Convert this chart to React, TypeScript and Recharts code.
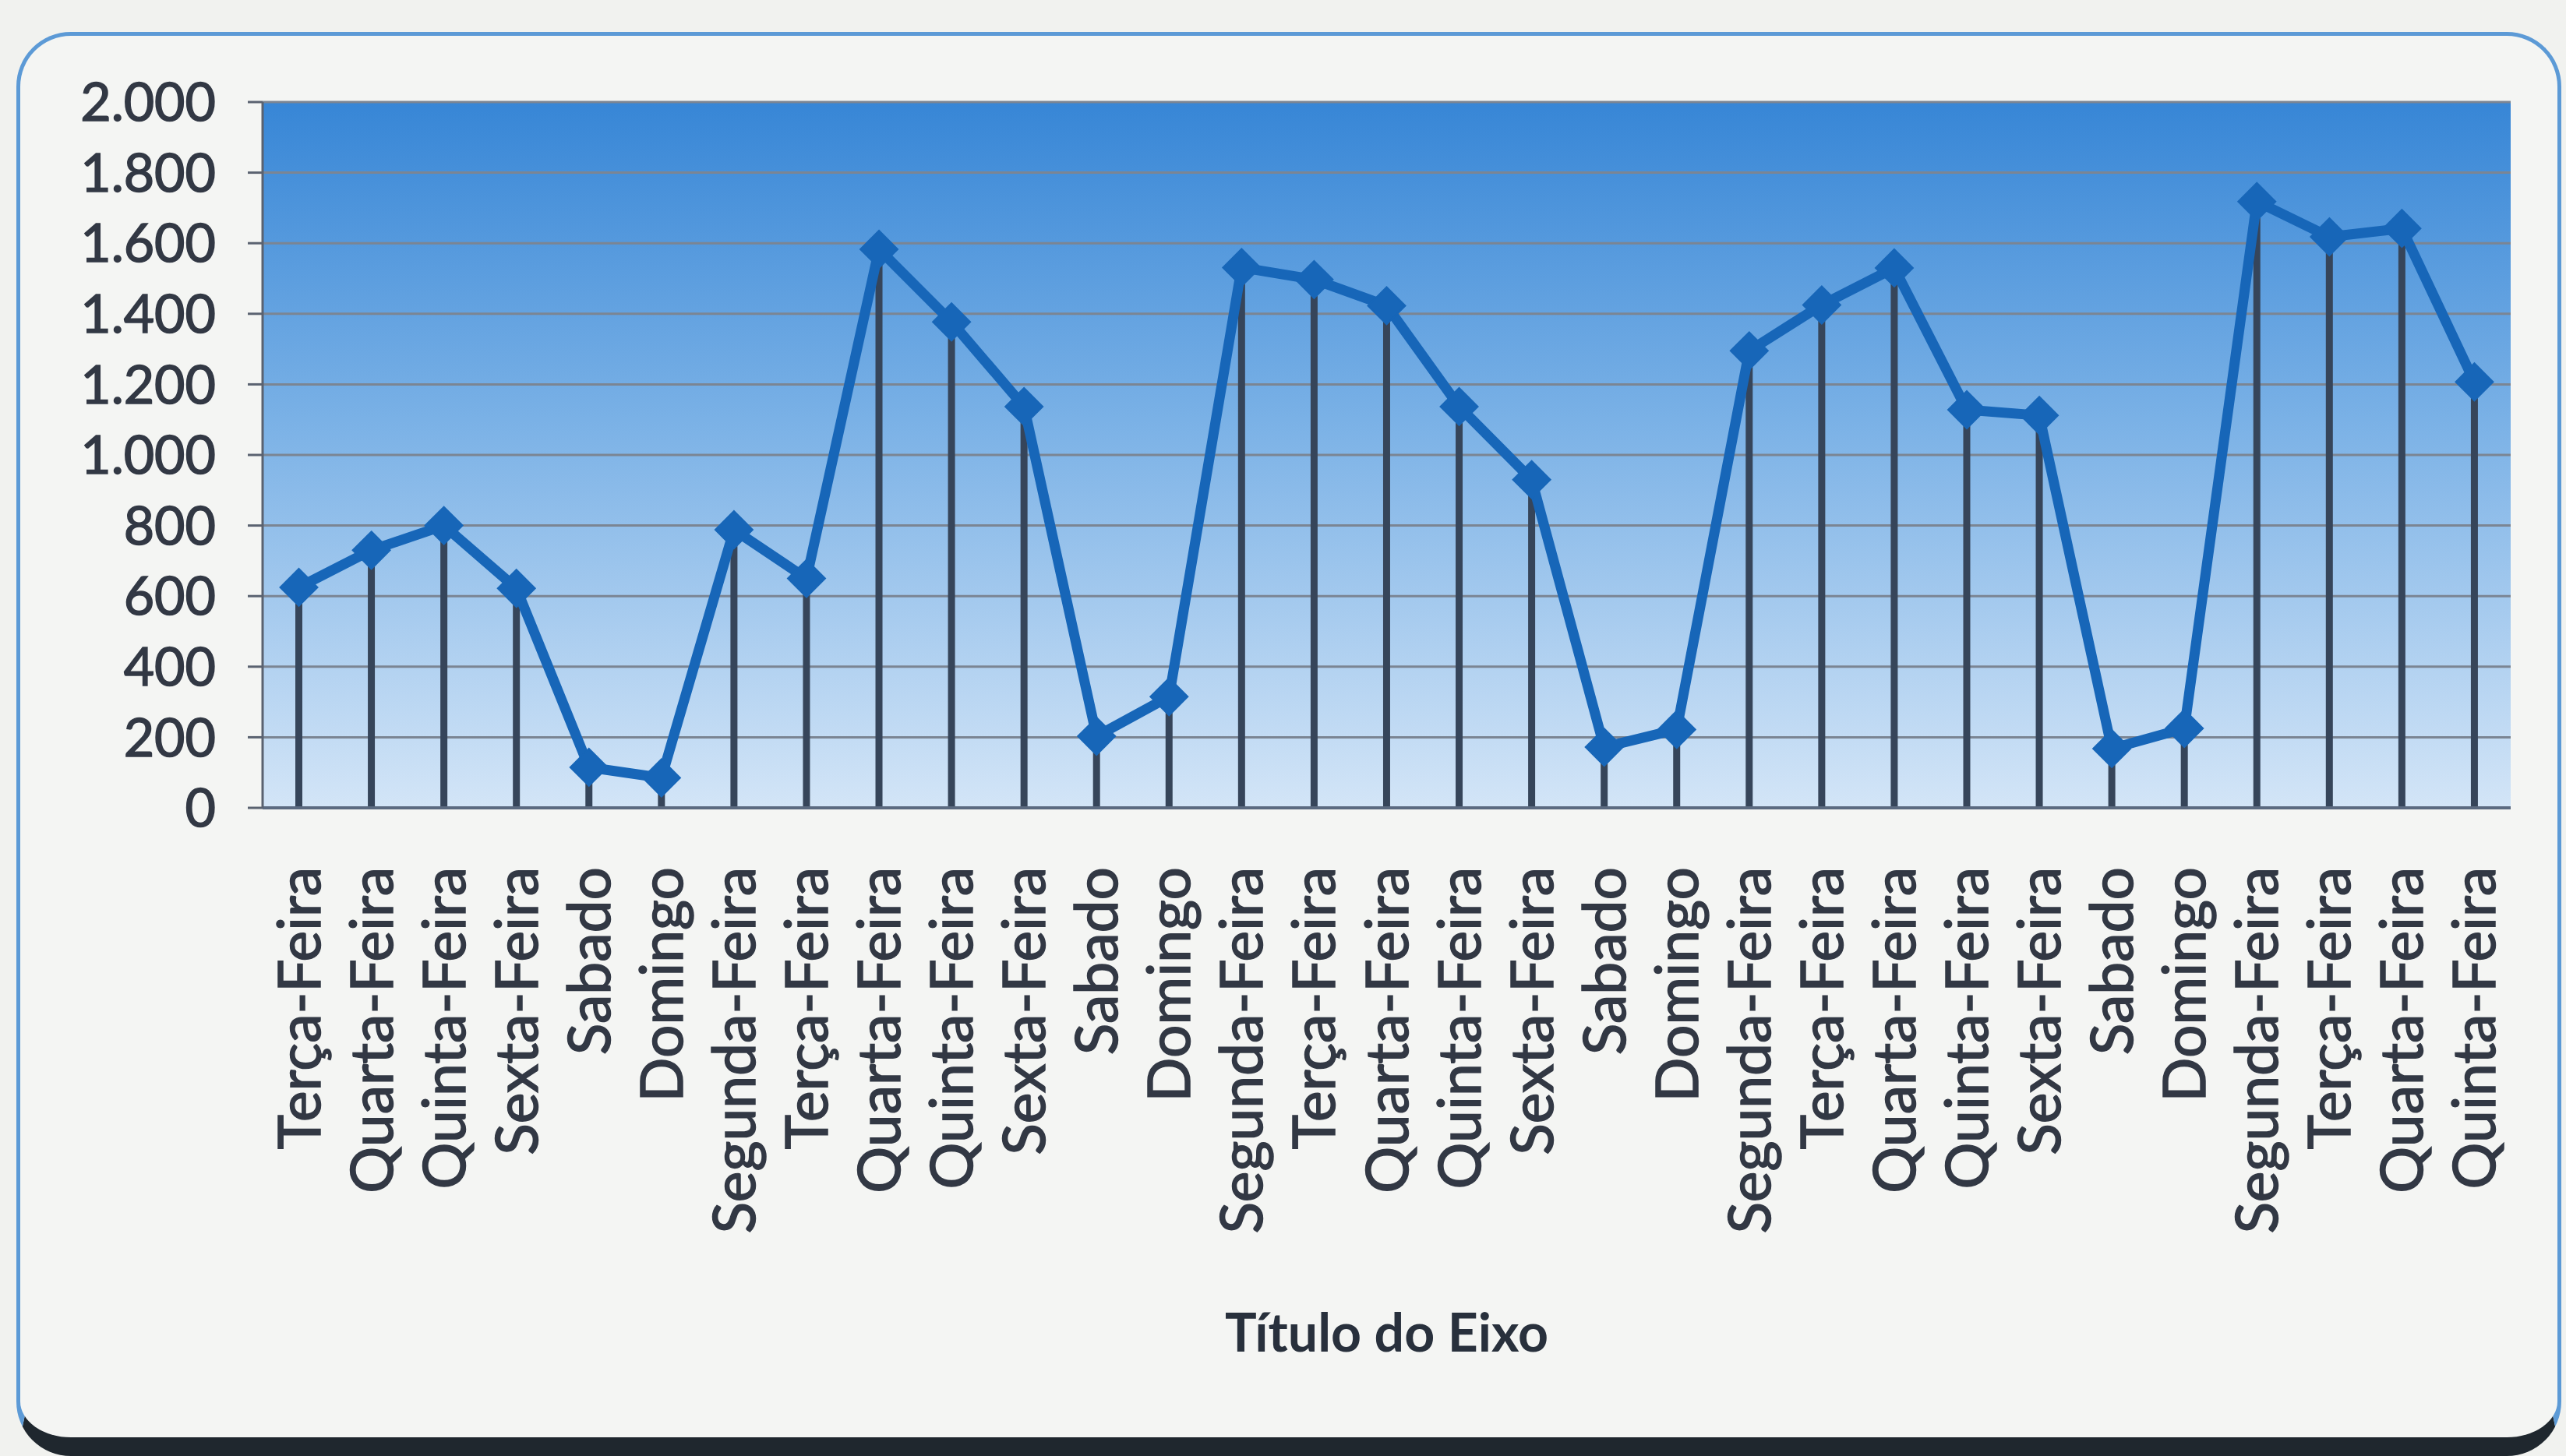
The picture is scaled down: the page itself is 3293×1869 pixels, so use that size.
import React from 'react';
import { ComposedChart, Bar, Line, XAxis, YAxis, CartesianGrid, Label } from 'recharts';

const days = [
  'Terça-Feira', 'Quarta-Feira', 'Quinta-Feira', 'Sexta-Feira', 'Sabado', 'Domingo', 'Segunda-Feira',
  'Terça-Feira', 'Quarta-Feira', 'Quinta-Feira', 'Sexta-Feira', 'Sabado', 'Domingo', 'Segunda-Feira',
  'Terça-Feira', 'Quarta-Feira', 'Quinta-Feira', 'Sexta-Feira', 'Sabado', 'Domingo', 'Segunda-Feira',
  'Terça-Feira', 'Quarta-Feira', 'Quinta-Feira', 'Sexta-Feira', 'Sabado', 'Domingo', 'Segunda-Feira',
  'Terça-Feira', 'Quarta-Feira', 'Quinta-Feira',
];

const values = [
  625, 730, 800, 622, 115, 85, 788,
  650, 1583, 1377, 1137, 203, 315, 1531,
  1497, 1423, 1137, 930, 172, 222, 1295,
  1425, 1530, 1128, 1112, 168, 225, 1718,
  1618, 1642, 1207,
];

const yTicks = [0, 200, 400, 600, 800, 1000, 1200, 1400, 1600, 1800, 2000];
const axisTitle = 'Título do Eixo';

const data = days.map((day, i) => ({ day, v: values[i] }));

const FONT = "Lato, 'Open Sans', sans-serif";
const LINE_COLOR = '#1766b8';
const TEXT_COLOR = '#323844';

const fmt = (n: number) => n.toLocaleString('de-DE');

const Diamond = (props: any) => {
  const { cx, cy } = props;
  if (cx == null || cy == null) return null;
  const r = 24;
  return (
    <path
      key={props.key}
      d={`M${cx},${cy - r} L${cx + r},${cy} L${cx},${cy + r} L${cx - r},${cy} Z`}
      fill={LINE_COLOR}
      stroke={LINE_COLOR}
      strokeWidth={2}
    />
  );
};

const XTick = (props: any) => {
  const { x, y, payload } = props;
  return (
    <text
      x={x}
      y={y}
      transform={`rotate(-90, ${x}, ${y})`}
      textAnchor="end"
      dy="0.36em"
      fontFamily={FONT}
      fontSize={75}
      fill={TEXT_COLOR}
      stroke={TEXT_COLOR}
      strokeWidth={1.5}
    >
      {payload.value}
    </text>
  );
};

export default function App() {
  return (
    <div style={{ position: 'absolute', left: 0, top: 0, width: 3293, height: 1869, background: '#f1f2ef', overflow: 'hidden' }}>
      <div
        style={{
          position: 'absolute',
          left: 21,
          top: 41,
          width: 3266,
          height: 1828,
          boxSizing: 'border-box',
          borderTop: '5px solid #5c9ad6',
          borderLeft: '5px solid #5c9ad6',
          borderRight: '5px solid #5c9ad6',
          borderBottom: '24px solid #1f272e',
          borderRadius: 70,
          background: '#f4f5f3',
        }}
      />
      <div style={{ position: 'absolute', left: 0, top: 0 }}>
        <ComposedChart width={3293} height={1869} data={data} margin={{ top: 131, right: 71, left: 0, bottom: 0 }}>
          <defs>
            <linearGradient id="plotBg" x1="0" y1="0" x2="0" y2="1">
              <stop offset="0%" stopColor="#3786d6" />
              <stop offset="45%" stopColor="#7ab1e6" />
              <stop offset="100%" stopColor="#d3e5f7" />
            </linearGradient>
          </defs>
          <CartesianGrid
            vertical={false}
            stroke="#7b8593"
            strokeWidth={3}
            fill="url(#plotBg)"
            fillOpacity={1}
          />
          <XAxis
            dataKey="day"
            height={832}
            interval={0}
            tickLine={false}
            tickSize={0}
            tickMargin={76}
            tick={<XTick />}
            axisLine={{ stroke: '#5b6a80', strokeWidth: 4 }}
          >
            <Label
              value={axisTitle}
              position="insideBottom"
              offset={134}
              style={{ fontSize: 68, fontWeight: 700, fill: '#28303c', fontFamily: FONT }}
            />
          </XAxis>
          <YAxis
            width={337}
            domain={[0, 2000]}
            ticks={yTicks}
            interval={0}
            tickFormatter={fmt}
            tickSize={19}
            tickMargin={41}
            tickLine={{ stroke: '#5a6270', strokeWidth: 3 }}
            axisLine={{ stroke: '#5a6270', strokeWidth: 3 }}
            tick={{ fontFamily: FONT, fontSize: 68, fill: TEXT_COLOR, stroke: TEXT_COLOR, strokeWidth: 1.5 }}
          />
          <Bar dataKey="v" barSize={9} fill="#36455a" isAnimationActive={false} />
          <Line
            type="linear"
            dataKey="v"
            stroke={LINE_COLOR}
            strokeWidth={13}
            dot={<Diamond />}
            activeDot={false}
            isAnimationActive={false}
          />
        </ComposedChart>
      </div>
    </div>
  );
}
